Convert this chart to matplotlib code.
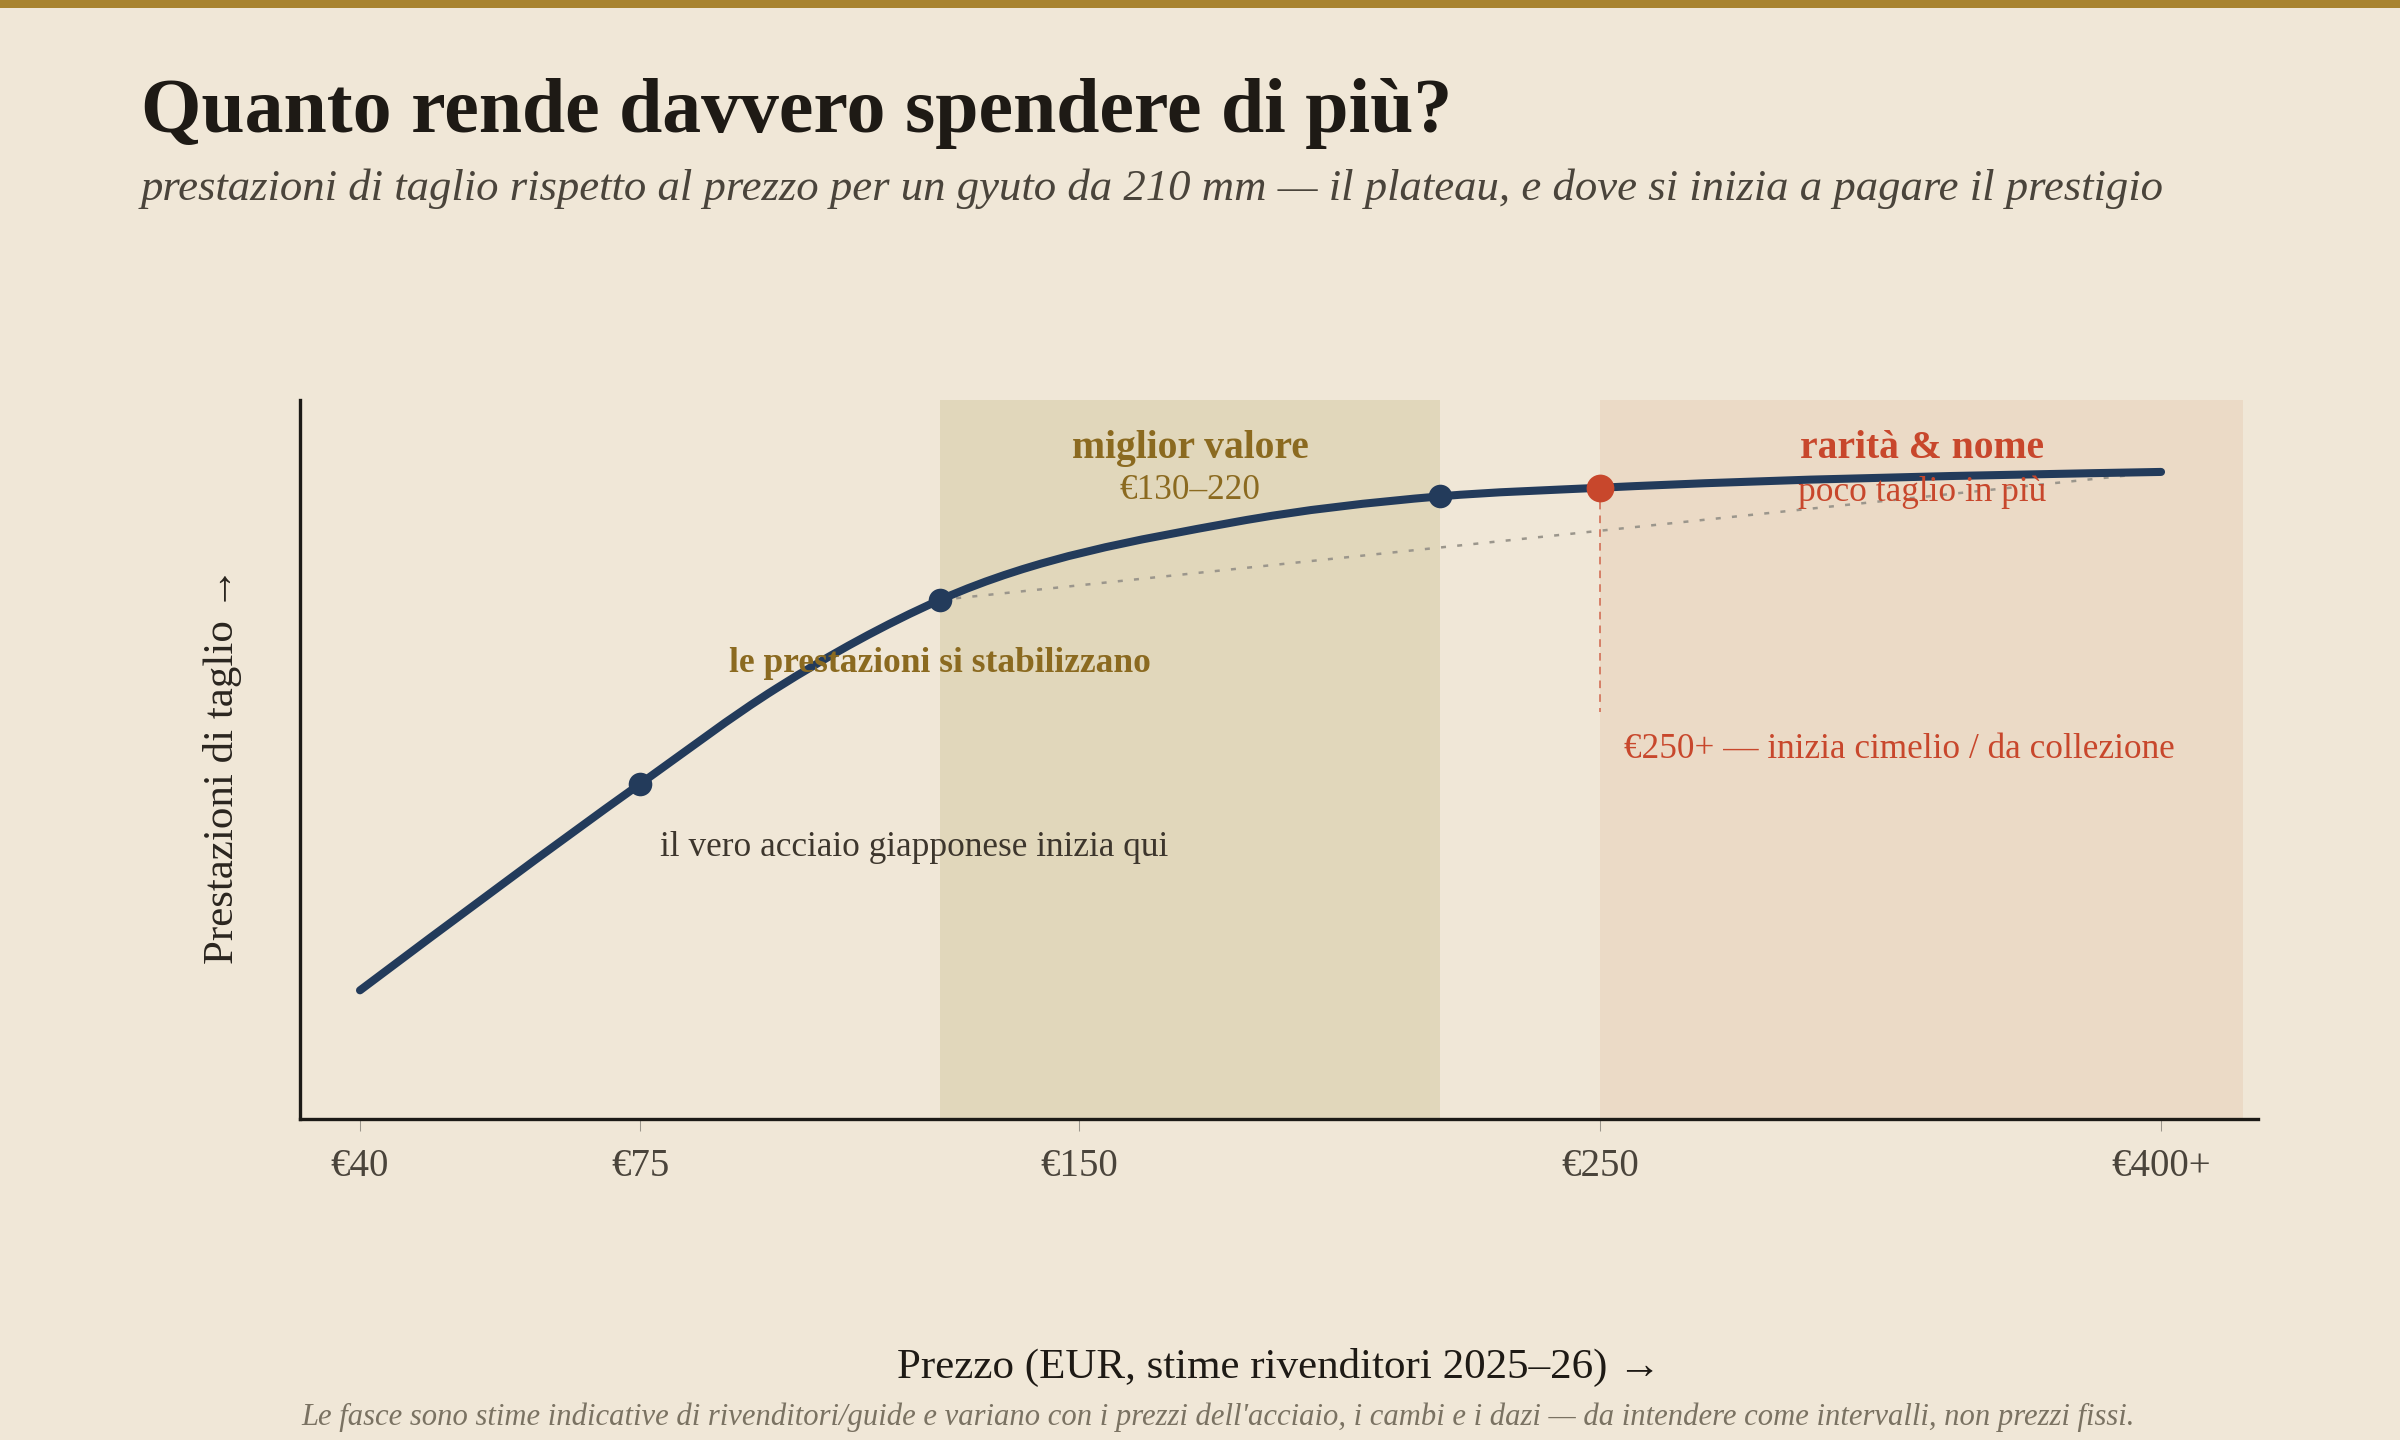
import numpy as np
import matplotlib
matplotlib.use("Agg")
import matplotlib.pyplot as plt
from matplotlib.patches import Rectangle, PathPatch
from matplotlib.path import Path

plt.rcParams['font.family'] = ['Liberation Serif', 'DejaVu Serif']

# --- data ---
price = [40, 75, 100, 130, 180, 220, 250, 400]
perf = [17.9, 46.6, 59.9, 72.2, 83.0, 86.6, 87.8, 90.0]

key_prices = [75, 130, 220]     # navy dots
flag_price = 250                # red dot, start of collector zone
chord = [130, 400]              # dotted "what you'd expect" line

tick_prices = [40, 75, 150, 250, 400]
tick_labels = ["€40", "€75", "€150", "€250", "€400+"]

band_value = (130, 220)
band_rare = (250, 422)

# price axis is stretched piecewise (not linear, not log)
scale_price = [30, 40, 75, 130, 150, 220, 250, 400, 450]
scale_pos = [280, 360, 640, 940, 1079, 1440, 1600, 2161, 2348]

def fwd(x):
    return np.interp(x, scale_price, scale_pos)

def inv(u):
    return np.interp(u, scale_pos, scale_price)

def monotone_path(xs, ys):
    # smooth line through the points, same idea as d3.curveMonotoneX
    u = fwd(np.asarray(xs, float))
    y = np.asarray(ys, float)
    h = np.diff(u)
    s = np.diff(y) / h
    n = len(u)
    t = np.zeros(n)
    for i in range(1, n - 1):
        p = (s[i - 1] * h[i] + s[i] * h[i - 1]) / (h[i - 1] + h[i])
        t[i] = (np.sign(s[i - 1]) + np.sign(s[i])) * min(abs(s[i - 1]), abs(s[i]), 0.5 * abs(p))
    t[0] = (3 * s[0] - t[1]) / 2
    t[-1] = (3 * s[-1] - t[-2]) / 2
    verts = [(xs[0], y[0])]
    codes = [Path.MOVETO]
    for i in range(n - 1):
        dx = h[i] / 3
        verts.append((inv(u[i] + dx), y[i] + dx * t[i]))
        verts.append((inv(u[i + 1] - dx), y[i + 1] - dx * t[i + 1]))
        verts.append((xs[i + 1], y[i + 1]))
        codes += [Path.CURVE4] * 3
    return Path(verts, codes)

# colours
BG = "#f0e7d7"
GOLD_BAR = "#a8832f"
NAVY = "#233b5b"
RED = "#c8472c"
GOLD = "#8b6a20"
BAND1 = "#e1d7bb"
BAND2 = "#ebdac6"
INK = "#1e1a15"
SOFT = "#4a443b"

val = dict(zip(price, perf))

fig = plt.figure(figsize=(24, 14.4), dpi=100)
fig.patch.set_facecolor(BG)
fig.patches.append(Rectangle((0, 1 - 8 / 1440), 1, 8 / 1440, transform=fig.transFigure,
                             color=GOLD_BAR, lw=0))

ax = fig.add_axes([0.125, 0.2229, 0.8158, 0.4993])
ax.set_facecolor(BG)
ax.set_xscale('function', functions=(fwd, inv))
ax.set_xlim(32.5, 425.9)
ax.set_ylim(0, 100)

# bands
ax.axvspan(band_value[0], band_value[1], color=BAND1, lw=0, zorder=0)
ax.axvspan(band_rare[0], band_rare[1], color=BAND2, lw=0, zorder=0)

# chord + red drop line
ax.plot(chord, [val[chord[0]], val[chord[1]]], color="#9b968c", lw=1.8,
        dashes=(2, 4.5), zorder=2)
ax.plot([flag_price, flag_price], [val[flag_price], 56.6], color=RED, lw=1.1,
        dashes=(5, 4), alpha=0.8, zorder=2)

# main curve
ax.add_patch(PathPatch(monotone_path(price, perf), fill=False, edgecolor=NAVY, lw=5.8,
                       capstyle='round', joinstyle='round', zorder=3))
ax.plot(key_prices, [val[p] for p in key_prices], 'o', color=NAVY, ms=17, mew=0, zorder=4)
ax.plot([flag_price], [val[flag_price]], 'o', color=RED, ms=20, mew=0, zorder=4)

# band headers
c1 = inv((fwd(band_value[0]) + fwd(band_value[1])) / 2)
c2 = inv((fwd(band_rare[0]) + fwd(band_rare[1])) / 2)
ax.text(c1, 91.9, "miglior valore", ha='center', va='baseline', fontsize=28.5,
        fontweight='bold', color=GOLD)
ax.text(c1, 86.2, "€130–220", ha='center', va='baseline', fontsize=25.4, color=GOLD)
ax.text(c2, 91.9, "rarità & nome", ha='center', va='baseline', fontsize=28.5,
        fontweight='bold', color=RED)
ax.text(c2, 85.9, "poco taglio in più", ha='center', va='baseline', fontsize=25.4, color=RED)

# annotations
ax.annotate("le prestazioni si stabilizzano", xy=(130, val[130]), xytext=(0, -52),
            textcoords='offset points', ha='center', va='baseline', fontsize=25.5,
            fontweight='bold', color=GOLD)
ax.annotate("il vero acciaio giapponese inizia qui", xy=(75, val[75]), xytext=(14.4, -52),
            textcoords='offset points', ha='left', va='baseline', fontsize=25.4, color="#3d362d")
ax.annotate("€250+ — inizia cimelio / da collezione", xy=(250, val[250]), xytext=(17.3, -194.5),
            textcoords='offset points', ha='left', va='baseline', fontsize=25.4, color=RED)

# axes styling
for s in ['top', 'right']:
    ax.spines[s].set_visible(False)
for s in ['left', 'bottom']:
    ax.spines[s].set_linewidth(2.4)
    ax.spines[s].set_color("#1c1a16")
ax.set_yticks([])
ax.set_xticks(tick_prices)
ax.set_xticklabels(tick_labels)
ax.xaxis.set_minor_locator(matplotlib.ticker.NullLocator())
ax.tick_params(axis='x', length=8.6, width=0.75, color="#9a958b", pad=12,
               labelsize=28, labelcolor=SOFT)

# titles and labels
fig.text(141 / 2400, 1 - 132 / 1440, "Quanto rende davvero spendere di più?",
         fontsize=56, fontweight='bold', color=INK, ha='left', va='baseline')
fig.text(141 / 2400, 1 - 200 / 1440,
         "prestazioni di taglio rispetto al prezzo per un gyuto da 210 mm — il plateau, "
         "e dove si inizia a pagare il prestigio",
         fontsize=32.25, style='italic', color=SOFT, ha='left', va='baseline')
fig.text(222 / 2400, 1 - 765 / 1440, "Prestazioni di taglio →", rotation=90,
         fontsize=31, color="#2a251f", ha='center', va='center')
fig.text(1279 / 2400, 1 - 1378 / 1440, "Prezzo (EUR, stime rivenditori 2025–26) →",
         fontsize=31, color=INK, ha='center', va='baseline')
fig.text(301 / 2400, 1 - 1425 / 1440,
         "Le fasce sono stime indicative di rivenditori/guide e variano con i prezzi "
         "dell'acciaio, i cambi e i dazi — da intendere come intervalli, non prezzi fissi.",
         fontsize=22.1, style='italic', color="#7a7262", ha='left', va='baseline')

fig.savefig("out.png", dpi=100, facecolor=BG)
